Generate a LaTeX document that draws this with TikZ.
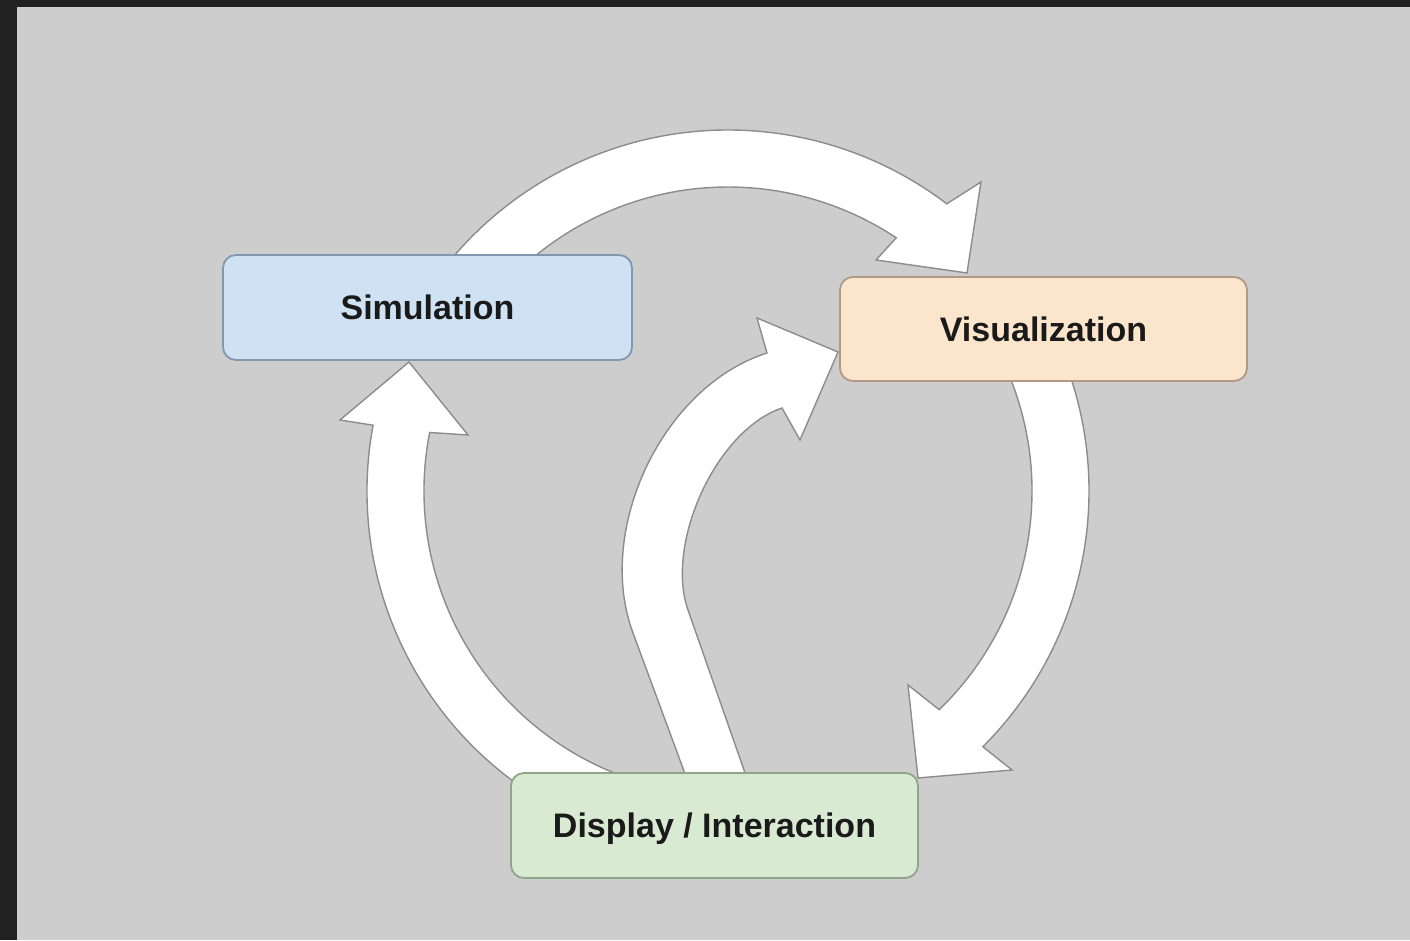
\documentclass[tikz,border=0pt]{standalone}
\usepackage{fontspec}
\setmainfont{Liberation Sans}
\usetikzlibrary{calc}
\definecolor{bgray}{HTML}{CDCDCD}
\definecolor{framecol}{HTML}{212121}
\definecolor{outl}{HTML}{8C8C8C}
\definecolor{simfill}{HTML}{CFE2F3}
\definecolor{simline}{HTML}{8298B0}
\definecolor{visfill}{HTML}{FCE5CD}
\definecolor{visline}{HTML}{B09A84}
\definecolor{disfill}{HTML}{D9EAD3}
\definecolor{disline}{HTML}{90A48A}
\definecolor{txt}{HTML}{1A1A1A}
\begin{document}
\begin{tikzpicture}[x=1pt,y=1pt,
  box/.style={rounded corners=13pt, line width=1.8pt, minimum width=407pt,
    minimum height=104pt, inner sep=0pt, text height=24.5pt, text depth=0pt,
    font=\fontsize{34}{40}\selectfont\bfseries, text=txt},
  blockarrow/.style={fill=white, draw=outl, line width=1.4pt, line join=miter}]
\useasboundingbox (0,0) rectangle (1410,940);
\fill[framecol] (0,0) rectangle (1410,940);
\fill[bgray] (17,0) rectangle (1410,933);
\coordinate (C) at (728,449);
% Simulation -> Visualization
\draw[blockarrow] ($(C)+(150:361)$) arc[start angle=150,end angle=52.7,radius=361]
  -- (981,758) -- (967,667) -- (876,680) -- ($(C)+(56.4:304)$)
  arc[start angle=56.4,end angle=150,radius=304] -- cycle;
% Visualization -> Display
\draw[blockarrow] ($(C)+(25:361)$) arc[start angle=25,end angle=-45.1,radius=361]
  -- (1012,170) -- (918,162) -- (908,255) -- ($(C)+(-46:304)$)
  arc[start angle=-46,end angle=25,radius=304] -- cycle;
% Display -> Simulation
\draw[blockarrow] ($(C)+(252:361)$) arc[start angle=252,end angle=169.5,radius=361]
  -- (340,520) -- (409,578) -- (468,505) -- ($(C)+(168.9:304)$)
  arc[start angle=168.9,end angle=252,radius=304] -- cycle;
% Display -> Visualization
\draw[blockarrow] (691,150) -- (633,307) .. controls (594.7,410) and (662.2,553.6) .. (767,587)
  -- (757,622) -- (838,588) -- (800,500) -- (782,532)
  .. controls (715.7,509.5) and (664.9,396) .. (688,330) -- (751,150) -- cycle;
\node[box, fill=simfill, draw=simline, minimum width=409pt, minimum height=105pt] (sim) at (427.5,632.5) {Simulation};
\node[box, fill=visfill, draw=visline] (vis) at (1043.5,611) {Visualization};
\node[box, fill=disfill, draw=disline, minimum height=105pt] (dis) at (714.5,114.5) {Display / Interaction};
\end{tikzpicture}
\end{document}
